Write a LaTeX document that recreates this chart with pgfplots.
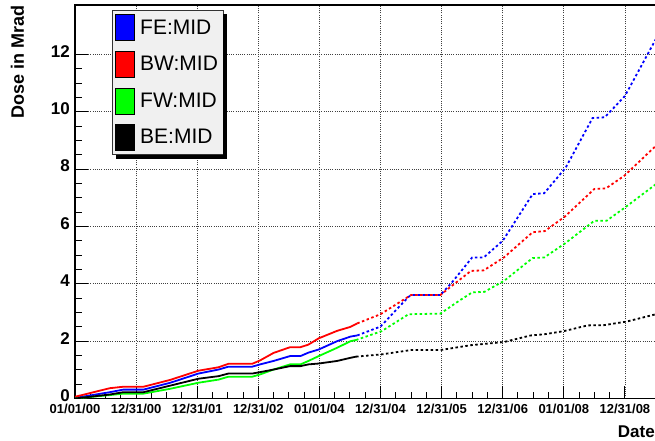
\documentclass[border=0pt]{standalone}
\usepackage{fontspec}
\setmainfont{Liberation Sans}
\usepackage{pgfplots}
\pgfplotsset{compat=1.18}
\begin{document}
\begin{tikzpicture}
\useasboundingbox (0,0) rectangle (655pt,440pt);
\begin{axis}[
  at={(75pt,41.5pt)}, anchor=south west,
  scale only axis, width=584pt, height=393.5pt,
  xmin=0, xmax=9.558, ymin=0, ymax=13.725,
  axis line style={line width=1.5pt},
  tick align=inside, tick pos=left,
  major tick length=13pt, minor tick length=7pt,
  every tick/.append style={black, line width=1pt},
  xtick={0,...,9},
  xticklabels={01/01/00,12/31/00,12/31/01,12/31/02,01/01/04,12/31/04,12/31/05,12/31/06,01/01/08,12/31/08},
  minor x tick num=3,
  ytick={0,2,...,12}, minor y tick num=3,
  grid=major,
  major grid style={black!75, line width=0.8pt, dash pattern=on 1pt off 1.2pt},
  xticklabel style={font=\fontsize{13}{13}\selectfont\bfseries, inner sep=1pt, yshift=-4pt},
  yticklabel style={font=\fontsize{17}{17}\selectfont\bfseries, inner sep=0pt, xshift=-5pt, yshift=3pt},
  /pgf/number format/assume math mode=true,
  legend style={name=leg, at={(axis description cs:0.0628,0.9873)}, anchor=north west,
    fill=black!6, draw=black!80, line width=0.8pt,
    font=\fontsize{21}{24}\selectfont, inner xsep=3pt, inner ysep=4pt,
    row sep=10pt, nodes={inner xsep=2pt, inner ysep=0pt},
    /tikz/every odd column/.append style={column sep=3.5pt}},
  legend cell align=left,
]
\addlegendimage{legend image code/.code={\draw[fill=blue, draw=black, line width=0.6pt] (0pt,-13pt) rectangle (19pt,13pt);}}
\addlegendentry{FE:MID}
\addlegendimage{legend image code/.code={\draw[fill=red, draw=black, line width=0.6pt] (0pt,-13pt) rectangle (19pt,13pt);}}
\addlegendentry{BW:MID}
\addlegendimage{legend image code/.code={\draw[fill=green, draw=black, line width=0.6pt] (0pt,-13pt) rectangle (19pt,13pt);}}
\addlegendentry{FW:MID}
\addlegendimage{legend image code/.code={\draw[fill=black, draw=black, line width=0.6pt] (0pt,-13pt) rectangle (19pt,13pt);}}
\addlegendentry{BE:MID}

% FE:MID (blue)
\addplot[forget plot, blue, line width=1.8pt] coordinates {(0,0.02) (0.57,0.22) (0.79,0.31) (1.12,0.31) (1.56,0.55) (2.02,0.87) (2.35,1.01) (2.51,1.11) (2.90,1.11) (3.03,1.19) (3.25,1.31) (3.52,1.48) (3.69,1.48) (3.82,1.60) (3.99,1.71) (4.29,2.00) (4.51,2.16) (4.62,2.20)};
\addplot[forget plot, blue, line width=1.8pt, dash pattern=on 2.5pt off 2.5pt] coordinates {(4.62,2.20) (5.00,2.51) (5.46,3.55) (5.52,3.61) (5.98,3.61) (6.15,4.00) (6.28,4.34) (6.50,4.92) (6.69,4.92) (7.00,5.50) (7.49,7.13) (7.68,7.16) (8.03,8.05) (8.47,9.78) (8.67,9.81) (9.00,10.55) (9.51,12.55)};
% BW:MID (red)
\addplot[forget plot, red, line width=1.8pt] coordinates {(0,0.06) (0.57,0.36) (0.79,0.41) (1.12,0.41) (1.56,0.65) (2.02,0.97) (2.35,1.09) (2.51,1.21) (2.90,1.21) (3.03,1.33) (3.25,1.59) (3.52,1.79) (3.69,1.79) (3.82,1.88) (3.99,2.10) (4.29,2.36) (4.51,2.50) (4.62,2.62)};
\addplot[forget plot, red, line width=1.8pt, dash pattern=on 2.5pt off 2.5pt] coordinates {(4.62,2.62) (5.00,2.94) (5.50,3.61) (5.98,3.61) (6.15,3.90) (6.48,4.45) (6.69,4.47) (7.02,4.92) (7.49,5.80) (7.69,5.84) (8.02,6.35) (8.50,7.31) (8.69,7.33) (8.99,7.77) (9.51,8.82)};
% FW:MID (green)
\addplot[forget plot, green, line width=1.8pt] coordinates {(0,0.00) (0.57,0.12) (0.79,0.17) (1.12,0.17) (1.56,0.34) (2.02,0.55) (2.35,0.66) (2.51,0.76) (2.90,0.76) (3.03,0.84) (3.25,1.01) (3.52,1.19) (3.69,1.19) (3.82,1.31) (3.99,1.48) (4.29,1.77) (4.51,2.00) (4.60,2.04)};
\addplot[forget plot, green, line width=1.8pt, dash pattern=on 2.5pt off 2.5pt] coordinates {(4.60,2.04) (5.02,2.35) (5.46,2.94) (5.98,2.96) (6.28,3.40) (6.50,3.70) (6.70,3.72) (7.02,4.10) (7.49,4.90) (7.68,4.92) (8.02,5.41) (8.50,6.20) (8.70,6.20) (9.00,6.66) (9.51,7.48)};
% BE:MID (black)
\addplot[forget plot, black, line width=1.8pt] coordinates {(0,0.00) (0.57,0.14) (0.79,0.22) (1.12,0.22) (1.56,0.45) (2.02,0.69) (2.35,0.78) (2.51,0.87) (2.90,0.87) (3.03,0.92) (3.25,1.01) (3.52,1.13) (3.69,1.13) (3.82,1.19) (3.99,1.22) (4.29,1.31) (4.51,1.42) (4.60,1.46)};
\addplot[forget plot, black, line width=1.8pt, dash pattern=on 2.5pt off 2.5pt] coordinates {(4.60,1.46) (5.02,1.54) (5.50,1.69) (5.98,1.69) (6.48,1.86) (7.02,1.97) (7.46,2.20) (7.68,2.24) (8.00,2.35) (8.39,2.55) (8.66,2.56) (9.02,2.68) (9.51,2.94)};
\end{axis}
% legend shadow (two strips right and below the legend box)
\fill[black] ([yshift=-4pt]leg.north east) rectangle ([xshift=4pt,yshift=-4pt]leg.south east);
\fill[black] ([xshift=4pt]leg.south west) rectangle ([xshift=4pt,yshift=-4pt]leg.south east);
\node[rotate=90, anchor=east, inner sep=0pt, font=\fontsize{18}{18}\selectfont\bfseries] at (17.5pt,435pt) {Dose in Mrad};
\node[anchor=base east, inner sep=0pt, font=\fontsize{17}{17}\selectfont\bfseries] at (655pt,3pt) {Date};
\end{tikzpicture}
\end{document}
